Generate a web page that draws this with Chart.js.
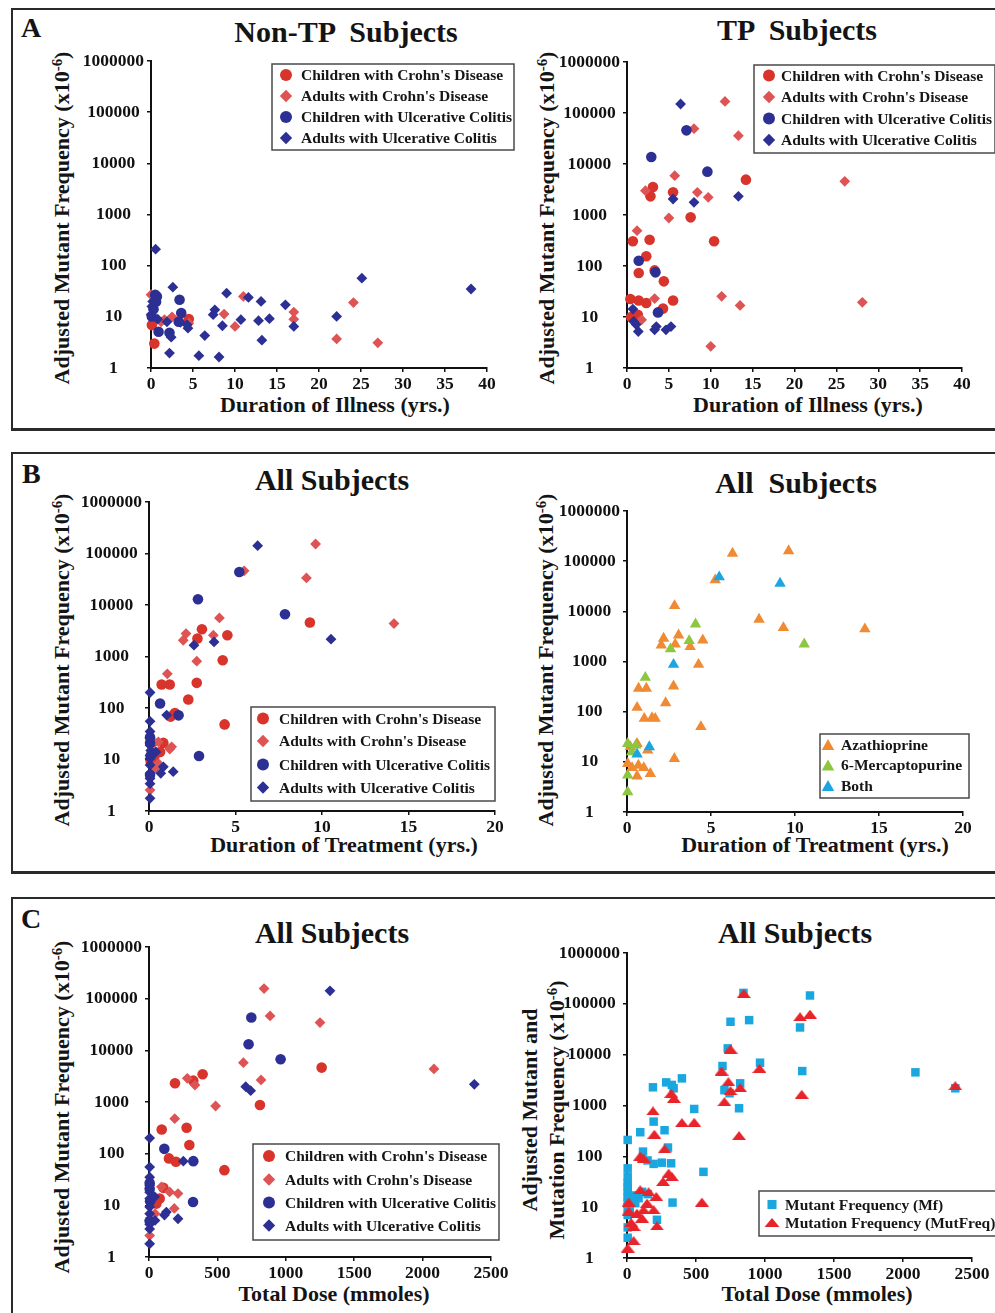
<!DOCTYPE html>
<html><head><meta charset="utf-8">
<script src="https://cdn.jsdelivr.net/npm/chart.js"></script>
<style>
html,body{margin:0;padding:0;background:#fff;}
body{width:995px;height:1313px;position:relative;overflow:hidden;font-family:"Liberation Serif","Times New Roman",serif;}
.panel{position:absolute;box-sizing:border-box;border:2px solid #2a2a2a;border-bottom-width:3px;}
canvas{position:absolute;}
.t{position:absolute;font-weight:bold;color:#141414;white-space:pre;line-height:1;transform:translate(-50%,-50%);}
.letter{font-size:28px;transform:translate(0,-50%);}
.title{font-size:30px;}
.axt{font-size:22px;}
.yt{transform:translate(-50%,-50%) rotate(-90deg);text-align:center;}
.yt2{line-height:27px;}
sup{font-size:0.68em;vertical-align:0.5em;line-height:0;}
</style></head><body>
<div class="panel" style="left:11px;top:8px;width:1000px;height:423px;"></div>
<div class="panel" style="left:11px;top:452px;width:1000px;height:422px;"></div>
<div class="panel" style="left:11px;top:897px;width:1000px;height:440px;"></div>

<div class="t letter" style="left:21px;top:28px;">A</div>
<div class="t letter" style="left:22px;top:474px;">B</div>
<div class="t letter" style="left:21px;top:919px;">C</div>

<div class="t title" style="left:346px;top:32px;">Non-TP  Subjects</div>
<div class="t title" style="left:797px;top:30px;">TP  Subjects</div>
<div class="t title" style="left:332px;top:480px;">All Subjects</div>
<div class="t title" style="left:796px;top:483px;">All  Subjects</div>
<div class="t title" style="left:332px;top:933px;">All Subjects</div>
<div class="t title" style="left:795px;top:933px;">All Subjects</div>

<div class="t axt" style="left:335px;top:405px;">Duration of Illness (yrs.)</div>
<div class="t axt" style="left:808px;top:405px;">Duration of Illness (yrs.)</div>
<div class="t axt" style="left:344px;top:845px;">Duration of Treatment (yrs.)</div>
<div class="t axt" style="left:815px;top:845px;">Duration of Treatment (yrs.)</div>
<div class="t axt" style="left:334px;top:1294px;">Total Dose (mmoles)</div>
<div class="t axt" style="left:817px;top:1294px;">Total Dose (mmoles)</div>

<div class="t axt yt" style="left:62px;top:218px;">Adjusted Mutant Frequency (x10<sup>-6</sup>)</div>
<div class="t axt yt" style="left:547px;top:218px;">Adjusted Mutant Frequency (x10<sup>-6</sup>)</div>
<div class="t axt yt" style="left:62px;top:660px;">Adjusted Mutant Frequency (x10<sup>-6</sup>)</div>
<div class="t axt yt" style="left:546px;top:660px;">Adjusted Mutant Frequency (x10<sup>-6</sup>)</div>
<div class="t axt yt" style="left:62px;top:1107px;">Adjusted Mutant Frequency (x10<sup>-6</sup>)</div>
<div class="t axt yt yt2" style="left:543px;top:1110px;">Adjusted Mutant and
Mutation Frequency (x10<sup>-6</sup>)</div>

<script>
// ---------------- DATA ----------------
const groupLabels = ["Children with Crohn's Disease", "Adults with Crohn's Disease", "Children with Ulcerative Colitis", "Adults with Ulcerative Colitis"];
const drugLabels = ["Azathioprine", "6-Mercaptopurine", "Both"];
const freqLabels = ["Mutant Frequency (Mf)", "Mutation Frequency (MutFreq)"];
const yTickValues = [1, 10, 100, 1000, 10000, 100000, 1000000];
const xTicksIllness = [0, 5, 10, 15, 20, 25, 30, 35, 40];
const xTicksTreatment = [0, 5, 10, 15, 20];
const xTicksDose = [0, 500, 1000, 1500, 2000, 2500];

// Panel A, left: Non-TP subjects vs duration of illness
const aL_childCD_x = [0.4, 0.1, 4.5];
const aL_childCD_y = [3.0, 6.9, 9.1];
const aL_adultCD_x = [0.0, 1.6, 2.5, 1.2, 8.7, 10.0, 11.0, 17.0, 17.0, 22.1, 24.1, 27.0, 4.5];
const aL_adultCD_y = [27, 8.8, 10, 8.0, 11.3, 6.5, 25, 12.4, 9.0, 3.7, 19, 3.1, 7.5];
const aL_childUC_x = [0.5, 0.7, 0.6, 3.4, 3.6, 0.9, 2.2, 0.1, 3.3, 0.3];
const aL_childUC_y = [27, 25, 19.7, 21.6, 11.9, 5.1, 4.9, 10.2, 8.0, 14];
const aL_adultUC_x = [0.55, 2.6, 2.2, 2.4, 4.4, 3.5, 5.7, 6.4, 8.1, 9.0, 7.6, 7.4, 8.5, 10.7, 11.6, 12.8, 13.1, 13.2, 14.1, 16.0, 17.0, 22.1, 25.1, 38.1, 1.9, 0.1, 0.0, 0.2, 0.8, 4.3];
const aL_adultUC_y = [210, 38, 1.96, 4, 6.0, 7.8, 1.74, 4.3, 1.64, 29, 13.7, 11, 6.7, 8.8, 24, 8.4, 20, 3.5, 9.2, 17.2, 6.5, 10.2, 57, 35, 8, 16, 11, 20, 9, 7];

// Panel A, right: TP subjects vs duration of illness
const aR_childCD_x = [0.7, 2.7, 2.3, 1.4, 3.3, 4.4, 3.1, 2.8, 5.5, 7.6, 10.4, 14.2, 0.4, 1.4, 2.3, 5.5, 4.3, 0.5, 1.3];
const aR_childCD_y = [305, 328, 155, 73, 82, 50, 3540, 2320, 2780, 900, 305, 4930, 22.5, 21, 18.8, 21, 14.6, 10, 11];
const aR_adultCD_x = [11.7, 8.0, 13.3, 5.7, 2.2, 8.4, 9.7, 5.0, 1.2, 3.3, 11.3, 13.5, 26.0, 28.1, 10.0, 1.75];
const aR_adultCD_y = [169000, 49300, 36000, 5900, 3000, 2780, 2220, 873, 493, 23, 25.4, 16.9, 4570, 19.4, 2.66, 8.8];
const aR_childUC_x = [2.9, 7.1, 9.6, 1.4, 3.4, 3.7];
const aR_childUC_y = [13700, 45700, 7080, 127, 75, 12.3];
const aR_adultUC_x = [6.4, 5.5, 8.0, 13.3, 0.7, 0.8, 1.1, 1.35, 3.5, 3.3, 4.65, 5.25];
const aR_adultUC_y = [150000, 2060, 1770, 2320, 14.3, 8.2, 7.1, 5.2, 6.5, 5.6, 5.6, 6.5];

// Panel B, left: all subjects vs duration of treatment
const bL_childCD_x = [0.73, 1.2, 2.76, 2.27, 1.25, 1.5, 3.06, 2.8, 4.53, 4.26, 4.37, 9.3, 0.64, 0.83, 0.3, 0.1];
const bL_childCD_y = [286, 286, 308, 146, 68, 80, 3380, 2230, 2590, 848, 48, 4560, 14, 21, 11, 9];
const bL_adultCD_x = [9.63, 5.5, 9.1, 4.07, 2.14, 1.98, 3.72, 2.76, 1.06, 14.16, 0.54, 1.31, 1.2, 0.3, 0.06, 0.35, 0.54];
const bL_adultCD_y = [153000, 46000, 33500, 5610, 2790, 2070, 2590, 811, 460, 4360, 22, 17.6, 16, 21, 2.55, 6.7, 8.4];
const bL_childUC_x = [2.83, 5.22, 7.86, 0.64, 1.71, 2.89, 0.06, 0.06, 0.1, 0.06];
const bL_childUC_y = [12900, 43800, 6610, 122, 72, 11.7, 27, 21, 12, 5];
const bL_adultUC_x = [6.28, 2.6, 3.76, 10.52, 1.02, 0.06, 0.06, 0.06, 0.06, 0.06, 0.1, 0.4, 0.06, 0.06, 0.06, 0.06, 0.06, 0.83, 0.68, 1.4, 0.06, 0.06];
const bL_adultUC_y = [142000, 1660, 1920, 2170, 73, 200, 55, 35, 26, 19, 15, 14, 10.5, 7.8, 5.4, 3.4, 1.76, 7.2, 5.4, 5.8, 12, 4.3];

// Panel B, right: by drug vs duration of treatment
const bR_aza_x = [6.28, 9.62, 5.25, 2.83, 7.86, 9.31, 14.16, 2.18, 2.04, 3.07, 2.87, 3.76, 4.51, 4.26, 0.69, 1.15, 2.77, 2.3, 0.6, 1.03, 1.49, 1.68, 4.4, 2.82, 1.39, 0.6, 0.04, 0.2, 0.6, 1.23, 0.68, 1.0, 0.3];
const bR_aza_y = [143000, 160000, 42000, 12900, 6900, 4710, 4430, 2880, 2120, 3360, 2200, 1970, 2670, 872, 290, 290, 322, 150, 121, 73, 75, 73, 50, 11.6, 5.8, 5.2, 9.2, 20, 23, 17.1, 8.5, 7.6, 7.6];
const bR_mp_x = [4.08, 3.7, 2.59, 10.55, 1.09, 0.04, 0.53, 0.28, 0.04, 0.04];
const bR_mp_y = [5570, 2590, 1770, 2220, 480, 23, 21.4, 15.7, 5.4, 2.5];
const bR_both_x = [5.49, 9.11, 2.77, 1.33, 0.6];
const bR_both_y = [48300, 36100, 872, 19.8, 14.2];

// Panel C, left: all subjects vs total dose
const cL_childCD_x = [190, 392, 324, 93, 275, 295, 146, 197, 551, 811, 1262, 78, 105, 54];
const cL_childCD_y = [2300, 3440, 2590, 294, 318, 147, 81, 69.6, 48, 873, 4630, 13.5, 21.8, 10.8];
const cL_adultCD_x = [841, 885, 1250, 690, 2083, 819, 280, 336, 487, 188, 151, 212, 91, 185, 5, 44];
const cL_adultCD_y = [157000, 46400, 34500, 5780, 4360, 2670, 2870, 2130, 836, 475, 18.2, 16.9, 22.8, 8.7, 2.6, 6.9];
const cL_childUC_x = [748, 728, 962, 112, 324, 322, 5, 5, 8, 5];
const cL_childUC_y = [43200, 13100, 6710, 124, 71.6, 11.6, 27, 21, 12, 5];
const cL_adultUC_x = [1323, 707, 743, 2378, 251, 5, 5, 5, 5, 5, 5, 42, 5, 5, 5, 5, 5, 127, 113, 212, 44, 5];
const cL_adultUC_y = [142000, 1980, 1660, 2200, 71.6, 200, 55, 35, 24.5, 18, 13.5, 14.6, 9.3, 6.9, 5.1, 3.5, 1.8, 7.4, 6.5, 5.5, 5.1, 4.3];

// Panel C, right: mutant vs mutation frequency vs total dose
const cR_mf_x = [844, 1326, 885, 750, 1254, 730, 964, 692, 1270, 2090, 2379, 398, 284, 325, 338, 188, 820, 706, 743, 812, 487, 193, 96, 272, 297, 116, 149, 193, 253, 320, 554, 330, 5, 5, 5, 5, 5, 5, 5, 5, 5, 5, 5, 5, 217, 84, 44, 110, 150, 60, 20];
const cR_mf_y = [164000, 146000, 47800, 44400, 34300, 13300, 6950, 5980, 4760, 4490, 2180, 3420, 2850, 2540, 2180, 2280, 2730, 2000, 1740, 882, 855, 482, 298, 326, 149, 124, 83, 71, 75, 73, 49.5, 12.3, 210, 58, 40, 30, 25, 20, 16, 13, 10, 7, 4, 2.5, 5.65, 15, 17, 20, 18, 12, 9];
const cR_mut_x = [846, 1254, 1326, 750, 685, 960, 735, 750, 820, 706, 1266, 2379, 321, 340, 188, 398, 487, 198, 812, 96, 120, 272, 302, 325, 261, 543, 96, 157, 212, 12, 145, 120, 12, 72, 193, 109, 48, 217, 48, 5, 30];
const cR_mut_y = [160000, 55600, 62700, 12900, 4760, 5370, 2940, 1960, 2240, 1190, 1660, 2450, 1740, 1380, 781, 461, 468, 272, 256, 101, 92, 140, 46.6, 40, 32, 12.6, 22, 20, 16.2, 12.6, 12, 8.9, 8.4, 7.6, 8.9, 6.1, 4.2, 4.3, 2.2, 1.57, 5];

// ---------------- STYLES ----------------
const FONT = '"Liberation Serif", "Times New Roman", serif';
Chart.defaults.font.family = FONT;
Chart.defaults.color = '#111';

function flatTriangle(w, h, color) {
  const c = document.createElement('canvas');
  c.width = w; c.height = h;
  const g = c.getContext('2d');
  g.fillStyle = color;
  g.beginPath(); g.moveTo(w / 2, 0); g.lineTo(w, h); g.lineTo(0, h); g.closePath(); g.fill();
  return c;
}

const S = {
  childCD: { pointStyle: 'circle', color: '#d8342b', r: 5.3, lr: 6 },
  adultCD: { pointStyle: 'rectRot', color: '#de5454', r: 5.4, lr: 6.2 },
  childUC: { pointStyle: 'circle', color: '#2c2f93', r: 5.3, lr: 6 },
  adultUC: { pointStyle: 'rectRot', color: '#2c2f93', r: 5.4, lr: 6.2 },
  aza: { pointStyle: 'triangle', color: '#f08a33', r: 6.6, lr: 7.2 },
  mp: { pointStyle: 'triangle', color: '#8dc63f', r: 6.6, lr: 7.2 },
  both: { pointStyle: 'triangle', color: '#1ba6e1', r: 6.6, lr: 7.2 },
  mf: { pointStyle: 'rect', color: '#1aa7e0', r: 6, lr: 6.4 },
  mut: { pointStyle: flatTriangle(14, 9, '#e8242a'), color: '#e8242a', r: 7, lr: 7, flat: [15, 9] }
};

function drawMarker(ctx, st, x, y) {
  const r = st.lr;
  ctx.fillStyle = st.color;
  ctx.beginPath();
  if (st.flat) {
    const [w, h] = st.flat;
    ctx.moveTo(x, y - h / 2); ctx.lineTo(x + w / 2, y + h / 2); ctx.lineTo(x - w / 2, y + h / 2); ctx.closePath();
  } else if (st.pointStyle === 'circle') {
    ctx.arc(x, y, r, 0, Math.PI * 2);
  } else if (st.pointStyle === 'rectRot') {
    ctx.moveTo(x, y - r); ctx.lineTo(x + r, y); ctx.lineTo(x, y + r); ctx.lineTo(x - r, y); ctx.closePath();
  } else if (st.pointStyle === 'triangle') {
    const yc = y + r * 0.25;
    ctx.moveTo(x, yc - r); ctx.lineTo(x + r * 0.866, yc + r * 0.5); ctx.lineTo(x - r * 0.866, yc + r * 0.5); ctx.closePath();
  } else {
    const s = r * Math.SQRT1_2;
    ctx.rect(x - s, y - s, 2 * s, 2 * s);
  }
  ctx.fill();
}

const boxLegend = {
  id: 'boxLegend',
  afterDraw(chart, args, o) {
    if (!o || !o.box) return;
    const ctx = chart.ctx;
    const [L, T, W, H] = o.box;
    ctx.save();
    ctx.fillStyle = '#fff';
    ctx.fillRect(L, T, W, H);
    ctx.lineWidth = 1.5;
    ctx.strokeStyle = '#4a4a4a';
    ctx.strokeRect(L, T, W, H);
    ctx.font = 'bold 15.5px ' + FONT;
    ctx.textBaseline = 'middle';
    chart.data.datasets.forEach((ds, i) => {
      const y = o.rows[i];
      drawMarker(ctx, ds._st, o.markerX, y);
      ctx.fillStyle = '#161616';
      ctx.fillText(ds.label, o.textX, y + 1);
    });
    ctx.restore();
  }
};

const WY = 80, PAD_TOP = 16, HX = 34;

function buildChart(spec) {
  const L = Math.round(spec.plot.l), T = Math.round(spec.plot.t);
  const R = Math.round(spec.plot.r), B = Math.round(spec.plot.b);
  const padR = spec.padRight;
  const cw = WY + (R - L) + padR, ch = PAD_TOP + (B - T) + HX;
  const cl = L - WY, ct = T - PAD_TOP;
  const cv = document.createElement('canvas');
  cv.width = cw; cv.height = ch;
  cv.style.left = cl + 'px'; cv.style.top = ct + 'px';
  cv.style.width = cw + 'px'; cv.style.height = ch + 'px';
  document.body.appendChild(cv);

  const n = spec.series.length;
  const datasets = spec.series.map((s, i) => ({
    label: s.label,
    data: s.x.map((xv, k) => ({ x: xv, y: s.y[k] })),
    pointStyle: s.st.pointStyle,
    pointRadius: s.st.r,
    backgroundColor: s.st.color,
    borderColor: s.st.color,
    borderWidth: 0,
    showLine: false,
    clip: false,
    order: n - i,
    _st: s.st
  }));

  const lg = spec.legend;
  const legendOpts = {
    box: [lg.l - cl, lg.t - ct, lg.r - lg.l, lg.b - lg.t],
    rows: lg.rows.map(v => v - ct),
    markerX: lg.markerX - cl,
    textX: lg.textX - cl
  };

  const tickFont = { size: 17.5, weight: 'bold', family: FONT };
  const grid = { display: true, drawOnChartArea: false, drawTicks: true, tickLength: 4, color: '#111', lineWidth: 1.5 };
  const border = { display: true, color: '#111', width: 2 };

  new Chart(cv, {
    type: 'scatter',
    data: { datasets },
    plugins: [boxLegend],
    options: {
      responsive: false,
      animation: false,
      devicePixelRatio: 1,
      events: [],
      layout: { padding: { left: 0, top: PAD_TOP, right: padR, bottom: 0 }, autoPadding: false },
      plugins: { legend: { display: false }, tooltip: { enabled: false }, title: { display: false }, boxLegend: legendOpts },
      scales: {
        x: {
          type: 'linear', min: 0, max: spec.xTicks[spec.xTicks.length - 1],
          afterBuildTicks: sc => { sc.ticks = spec.xTicks.map(v => ({ value: v })); },
          afterFit: sc => { sc.height = HX; },
          ticks: { font: tickFont, color: '#111', padding: 2, maxRotation: 0, autoSkip: false, callback: v => String(v) },
          grid, border
        },
        y: {
          type: 'logarithmic', min: 1, max: 1000000,
          afterBuildTicks: sc => { sc.ticks = yTickValues.map(v => ({ value: v })); },
          afterFit: sc => { sc.width = WY; },
          ticks: { font: tickFont, color: '#111', padding: 3, crossAlign: 'center', autoSkip: false, callback: v => String(v) },
          grid, border
        }
      }
    }
  });
}

const groupStyles = [S.childCD, S.adultCD, S.childUC, S.adultUC];
function groups(xs, ys) {
  return xs.map((x, i) => ({ label: groupLabels[i], x, y: ys[i], st: groupStyles[i] }));
}

buildChart({
  plot: { l: 151, t: 61, r: 487, b: 368 }, xTicks: xTicksIllness, padRight: 32,
  series: groups([aL_childCD_x, aL_adultCD_x, aL_childUC_x, aL_adultUC_x], [aL_childCD_y, aL_adultCD_y, aL_childUC_y, aL_adultUC_y]),
  legend: { l: 272, t: 64, r: 514, b: 150, rows: [75, 96, 117, 138], markerX: 286, textX: 301 }
});
buildChart({
  plot: { l: 627, t: 62, r: 962, b: 368 }, xTicks: xTicksIllness, padRight: 40,
  series: groups([aR_childCD_x, aR_adultCD_x, aR_childUC_x, aR_adultUC_x], [aR_childCD_y, aR_adultCD_y, aR_childUC_y, aR_adultUC_y]),
  legend: { l: 754, t: 65, r: 995, b: 153, rows: [75.5, 97, 118.5, 140], markerX: 769, textX: 781 }
});
buildChart({
  plot: { l: 149, t: 502, r: 495, b: 811 }, xTicks: xTicksTreatment, padRight: 25,
  series: groups([bL_childCD_x, bL_adultCD_x, bL_childUC_x, bL_adultUC_x], [bL_childCD_y, bL_adultCD_y, bL_childUC_y, bL_adultUC_y]),
  legend: { l: 251, t: 707, r: 495, b: 801, rows: [718.5, 741, 764.5, 787.5], markerX: 263, textX: 279 }
});
buildChart({
  plot: { l: 627, t: 511, r: 963, b: 812 }, xTicks: xTicksTreatment, padRight: 25,
  series: [
    { label: drugLabels[0], x: bR_aza_x, y: bR_aza_y, st: S.aza },
    { label: drugLabels[1], x: bR_mp_x, y: bR_mp_y, st: S.mp },
    { label: drugLabels[2], x: bR_both_x, y: bR_both_y, st: S.both }
  ],
  legend: { l: 820, t: 734, r: 969, b: 798, rows: [744.5, 765, 785.5], markerX: 828, textX: 841 }
});
buildChart({
  plot: { l: 149, t: 947, r: 491, b: 1257 }, xTicks: xTicksDose, padRight: 25,
  series: groups([cL_childCD_x, cL_adultCD_x, cL_childUC_x, cL_adultUC_x], [cL_childCD_y, cL_adultCD_y, cL_childUC_y, cL_adultUC_y]),
  legend: { l: 253, t: 1144, r: 499, b: 1240, rows: [1156, 1179.5, 1202.5, 1225.5], markerX: 269, textX: 285 }
});
buildChart({
  plot: { l: 627, t: 953, r: 972, b: 1258 }, xTicks: xTicksDose, padRight: 40,
  series: [
    { label: freqLabels[0], x: cR_mf_x, y: cR_mf_y, st: S.mf },
    { label: freqLabels[1], x: cR_mut_x, y: cR_mut_y, st: S.mut }
  ],
  legend: { l: 759, t: 1191, r: 1012, b: 1236, rows: [1204.5, 1222.5], markerX: 772, textX: 785 }
});
</script>
</body></html>
